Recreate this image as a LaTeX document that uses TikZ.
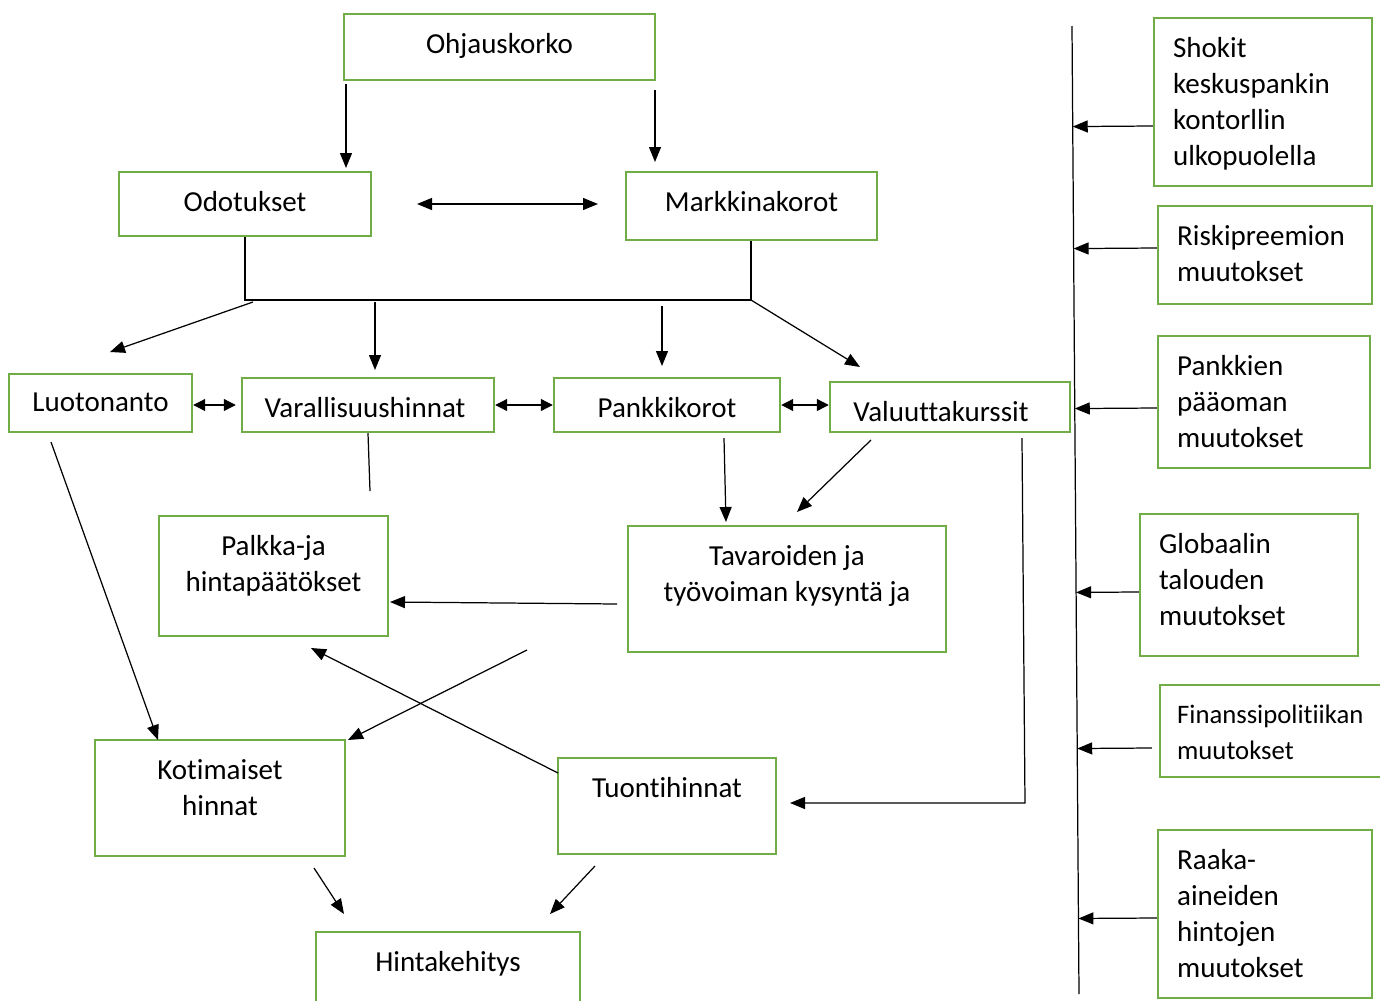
\documentclass[tikz,border=0pt]{standalone}
\usepackage{fontspec}
\setmainfont{Carlito}[Ligatures=NoCommon]
\usetikzlibrary{arrows.meta,calc,fit}
\definecolor{boxgreen}{RGB}{112,173,71}
\begin{document}
\begin{tikzpicture}[x=0.02cm,y=-0.02cm,>={Triangle[length=0.3cm,width=0.24cm]},
box/.style={draw=boxgreen,line width=1.4pt,inner sep=0pt},
txt/.style={font=\fontsize{16.5}{20.5}\selectfont,inner sep=0pt},
ctext/.style={label={[txt,anchor=north,align=center,yshift=-0.4cm]north:#1}},
ltext/.style={label={[txt,anchor=north west,align=left,xshift=0.4cm,yshift=-0.4cm]north west:#1}},
ln/.style={line width=0.7pt},
arr/.style={->,line width=0.7pt},
darr/.style={{Triangle[length=0.24cm,width=0.24cm]}-{Triangle[length=0.24cm,width=0.24cm]},line width=0.7pt}]
\clip[use as bounding box] (0,0) rectangle (1380,1001);

\node[box,fit={(344,14)(655,80)},ctext=Ohjauskorko] (ohj) {};
\node[box,fit={(119,172)(371,236)},ctext=Odotukset] (odot) {};
\node[box,fit={(626,172)(877,240)},ctext=Markkinakorot] (mark) {};
\node[box,fit={(9,374)(192,432)},ctext=Luotonanto] (luot) {};
\node[box,fit={(242,378)(494,432)},label={[txt,anchor=north,xshift=-0.06cm,yshift=-0.4cm]north:Varallisuushinnat}] (var) {};
\node[box,fit={(554,378)(780,432)},ctext=Pankkikorot] (pank) {};
\node[box,fit={(830,382)(1070,432)},label={[txt,anchor=north,xshift=-0.18cm,yshift=-0.4cm]north:Valuuttakurssit}] (val) {};
\node[box,fit={(159,516)(388,636)},ctext={Palkka-ja\\hintapäätökset}] (palk) {};
\node[box,fit={(628,526)(946,652)},ctext={Tavaroiden ja\\työvoiman kysyntä ja}] (tav) {};
\node[box,fit={(95,740)(345,856)},ctext={Kotimaiset\\hinnat}] (kot) {};
\node[box,fit={(558,758)(776,854)},ctext=Tuontihinnat] (tuo) {};
\node[box,fit={(316,932)(580,1012)},ctext=Hintakehitys] (hint) {};

\node[box,fit={(1154,18)(1372,186)},ltext={Shokit\\keskuspankin\\kontorllin\\ulkopuolella}] (shok) {};
\node[box,fit={(1158,206)(1372,304)},ltext={Riskipreemion\\muutokset}] (risk) {};
\node[box,fit={(1158,336)(1370,468)},ltext={Pankkien\\pääoman\\muutokset}] (pankp) {};
\node[box,fit={(1140,514)(1358,656)},ltext={Globaalin\\talouden\\muutokset}] (glob) {};
\node[box,fit={(1160,685)(1382,777)},label={[txt,font=\fontsize{15.2}{20.5}\selectfont,anchor=north west,align=left,xshift=0.36cm,yshift=-0.42cm]north west:Finanssipolitiikan\\muutokset}] (fin) {};
\node[box,fit={(1158,830)(1372,998)},ltext={Raaka-\\aineiden\\hintojen\\muutokset}] (raaka) {};

\coordinate (ohj-a) at (346,84);
\coordinate (odot-a) at (346,168);
\coordinate (ohj-b) at (655,90);
\coordinate (mark-a) at (655,162);
\coordinate (mid-l) at (417,204);
\coordinate (mid-r) at (598,204);
\coordinate (brk-l) at (245,300);
\coordinate (brk-r) at (751,300);
\coordinate (brk-a) at (253,302);
\coordinate (luot-a) at (110,352);
\coordinate (brk-b) at (375,302);
\coordinate (var-a) at (375,370);
\coordinate (brk-c) at (662,306);
\coordinate (pank-a) at (662,366);
\coordinate (val-a) at (860,367);
\coordinate (var-b) at (370,491);
\coordinate (luot-b) at (51,442);
\coordinate (kot-a) at (158,740);
\coordinate (pank-b) at (724,438);
\coordinate (tav-a) at (726,522);
\coordinate (val-b) at (871,440);
\coordinate (tav-b) at (797,512);
\coordinate (tav-c) at (617,604);
\coordinate (palk-a) at (390,602);
\coordinate (tav-d) at (527,650);
\coordinate (kot-b) at (348,740);
\coordinate (tuo-a) at (558,773);
\coordinate (palk-b) at (311,648);
\coordinate (val-c) at (1022,438);
\coordinate (val-d) at (1025,803);
\coordinate (tuo-b) at (790,803);
\coordinate (kot-c) at (314,868);
\coordinate (hint-a) at (344,914);
\coordinate (tuo-c) at (595,866);
\coordinate (hint-b) at (550,914);
\coordinate (vtop) at (1072,26);
\coordinate (vbot) at (1079,994);

\draw[arr] (ohj-a) -- (odot-a);
\draw[arr] (ohj-b) -- (mark-a);
\draw[arr,<->] (mid-l) -- (mid-r);
\draw[ln] (odot.south -| brk-l) -- (brk-l) -- (brk-r) -- (mark.south -| brk-r);
\draw[arr] (brk-a) -- (luot-a);
\draw[arr] (brk-b) -- (var-a);
\draw[arr] (brk-c) -- (pank-a);
\draw[arr] (brk-r) -- (val-a);
\draw[darr] (luot.east |- var.west) -- ([xshift=-0.1cm]var.west);
\draw[darr] (var.east) -- (pank.west);
\draw[darr] (pank.east) -- (val.west |- pank.east);
\draw[ln] (var.south) -- (var-b);
\draw[arr] (luot-b) -- (kot-a);
\draw[arr] (pank-b) -- (tav-a);
\draw[arr] (val-b) -- (tav-b);
\draw[arr] (tav-c) -- (palk-a);
\draw[arr] (tav-d) -- (kot-b);
\draw[arr] (tuo-a) -- (palk-b);
\draw[arr] (val-c) -- (val-d) -- (tuo-b);
\draw[arr] (kot-c) -- (hint-a);
\draw[arr] (tuo-c) -- (hint-b);

\draw[ln] (vtop) -- (vbot);
\draw[arr] (shok.west |- 0,126) -- ($(vtop)!(shok.west |- 0,126)!(vbot)$);
\draw[arr] (risk.west |- 0,248) -- ($(vtop)!(risk.west |- 0,248)!(vbot)$);
\draw[arr] (pankp.west |- 0,408) -- ($(vtop)!(pankp.west |- 0,408)!(vbot)$);
\draw[arr] (glob.west |- 0,592) -- ($(vtop)!(glob.west |- 0,592)!(vbot)$);
\draw[arr] ([xshift=-0.14cm]fin.west |- 0,748) -- ($(vtop)!(fin.west |- 0,748)!(vbot)$);
\draw[arr] (raaka.west |- 0,918) -- ($(vtop)!(raaka.west |- 0,918)!(vbot)$);
\end{tikzpicture}
\end{document}
